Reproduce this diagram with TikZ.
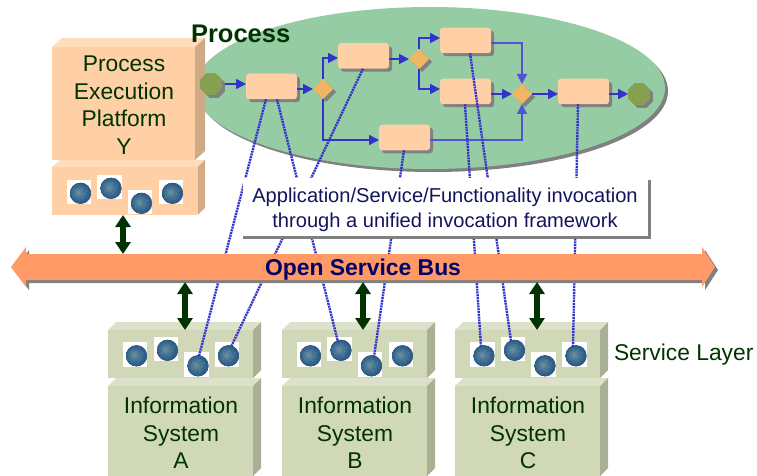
\documentclass[tikz,border=0pt]{standalone}
\usepackage{fontspec}
\setmainfont{Liberation Sans}
\usetikzlibrary{shapes.geometric,shadows,calc,arrows.meta}
\definecolor{elgreen}{HTML}{96CCA3}
\definecolor{shadowgray}{HTML}{808080}
\definecolor{peach}{HTML}{FFCFA5}
\definecolor{peachtop}{HTML}{FFDDBB}
\definecolor{peachside}{HTML}{CFAA85}
\definecolor{sage}{HTML}{D0D8B8}
\definecolor{sagetop}{HTML}{DCE2CA}
\definecolor{sageside}{HTML}{A9B096}
\definecolor{diam}{HTML}{F0B662}
\definecolor{olive}{HTML}{86A052}
\definecolor{flow}{HTML}{3333CC}
\definecolor{dgreen}{HTML}{003300}
\definecolor{navy}{HTML}{000066}
\definecolor{inknavy}{HTML}{14145E}
\definecolor{buscol}{HTML}{FF9966}
\definecolor{ballA}{HTML}{6F93A0}
\definecolor{ballB}{HTML}{4A7896}
\definecolor{ballC}{HTML}{2A5A88}
\pgfdeclareradialshading{svcball}{\pgfpoint{-6bp}{3bp}}{%
  color(0bp)=(ballA); color(10bp)=(ballB); color(24bp)=(ballC); color(30bp)=(ballC!80!white); color(50bp)=(ballC!80!white)}
\newcommand{\svc}[3]{%
  \node[svcsq] (#1) at (#2,#3) {};
  \fill[shading=svcball] (#2+1.5,#3+1.3) circle (10.5);
  \foreach \dx/\dy in {-5/-3,-2/2,1/-5,4/1,-6/3,2/5,6/-3,-1/-1}
    \fill[ballA,opacity=.4] (#2+1.5+\dx,#3+1.3+\dy) circle (1);
}
\tikzset{
  x=1pt,y=-1pt,
  txt/.style={inner sep=0,outer sep=0,text=dgreen,align=center,font=\fontsize{22.8}{27.4}\selectfont},
  svcsq/.style={fill=white,minimum size=24.5,inner sep=0,outer sep=0},
  front/.style={inner sep=0,outer sep=0,anchor=north west},
  shadowed/.style={drop shadow={shadow xshift=3pt,shadow yshift=-3pt,fill=shadowgray,opacity=1}},
  task/.style={shadowed,fill=peach,rounded corners=3,minimum width=51,minimum height=25.5,inner sep=0,outer sep=0},
  gate/.style={shadowed,diamond,fill=diam,minimum size=20,inner sep=0,outer sep=0},
  ev/.style={shadowed,regular polygon,regular polygon sides=8,fill=olive,minimum size=23.5,inner sep=0,outer sep=0},
  seq/.style={draw=flow,line width=1.6,-{Triangle[width=10,length=10]}},
  seqthin/.style={draw=flow!85!white,line width=1.1,-{Triangle[width=10,length=10]}},
  svclink/.style={draw=flow,line width=2.4,dash pattern=on 2 off .8},
  syncarrow/.style={draw=dgreen,line width=6,{Triangle[width=15,length=12]}-{Triangle[width=15,length=12]}},
}
\begin{document}
\begin{tikzpicture}
\useasboundingbox (0,0) rectangle (757,476);
% ellipse
\node[ellipse,shadowed,fill=elgreen,minimum width=470,minimum height=162,inner sep=0] (cloud) at (430,88) {};
% Y platform
\fill[peachtop] (52,47) -- (62,38) -- (205,38) -- (195,47) -- cycle;
\fill[peachside] (195,47) -- (205,38) -- (205,151) -- (195,160) -- cycle;
\node[front,fill=peach,minimum width=143,minimum height=113] (yplat) at (52,47) {};
\fill[peachtop] (52,167) -- (60,160) -- (205,160) -- (197.5,167) -- cycle;
\fill[peachside!95!peach] (197.5,167) -- (205,160) -- (205,208) -- (197.5,215) -- cycle;
\node[front,fill=peach,minimum width=145.5,minimum height=48] (ysvc) at (52,167) {};
% Information systems
\foreach \n/\X in {a/108,b/282,c/455}{
  \fill[sagetop] (\X,330) -- (\X+8,322) -- (\X+153,322) -- (\X+145,330) -- cycle;
  \fill[sageside] (\X+145,330) -- (\X+153,322) -- (\X+153,370) -- (\X+145,378) -- cycle;
  \node[front,fill=sage,minimum width=145,minimum height=48] (\n svc) at (\X,330) {};
  \fill[sagetop] (\X,386) -- (\X+8,378) -- (\X+153,378) -- (\X+145,386) -- cycle;
  \fill[sageside] (\X+145,386) -- (\X+153,378) -- (\X+153,468) -- (\X+145,476) -- cycle;
  \node[front,fill=sage,minimum width=145,minimum height=90] (\n sys) at (\X,386) {};
}
% services
\svc{y1}{79}{192}\svc{y2}{109.5}{187}\svc{y3}{140}{202}\svc{y4}{171}{192}
\svc{a1}{135}{354.5}\svc{a2}{166}{349}\svc{a3}{196.5}{364.5}\svc{a4}{227}{354.5}
\svc{b1}{309}{354.5}\svc{b2}{339.5}{349}\svc{b3}{370}{364.5}\svc{b4}{401}{354.5}
\svc{c1}{482.5}{354.5}\svc{c2}{513}{349}\svc{c3}{543.5}{364.5}\svc{c4}{574.5}{354.5}
% process flow
\node[ev] (st) at (211,84) {};
\node[task] (r1) at (271.5,86.5) {};
\node[gate] (d1) at (323,89) {};
\node[task] (r2) at (363.5,56) {};
\node[task] (r3) at (404.5,137.5) {};
\node[gate] (d2) at (419,59) {};
\node[task] (r4) at (465.5,40.5) {};
\node[task] (r5) at (465.5,91.5) {};
\node[gate] (d3) at (522,94) {};
\node[task] (r6) at (583.5,91.5) {};
\node[ev] (en) at (639,94) {};
\draw[seq,shorten <=3] (st.east) -- (st.east -| r1.west);
\draw[seq] (r1.east |- d1.west) -- (d1.west);
\draw[seq] (d1.north) |- ($(r2.west)+(0,2)$);
\draw[seq] (d1.south) |- ($(r3.west)+(0,2.5)$);
\draw[seq] (r2.east |- d2.west) -- (d2.west);
\draw[seq] (d2.north) |- ($(r4.west)+(0,-2.5)$);
\draw[seq] (d2.south) |- ($(r5.west)+(0,-2.5)$);
\draw[seqthin] ($(r3.east)+(0,2.5)$) -| (d3.south);
\draw[seqthin] ($(r4.east)+(0,2.5)$) -| (d3.north);
\draw[seq] (r5.east |- d3.west) -- (d3.west);
\draw[seq] (d3.east) -- (d3.east -| r6.west);
\draw[seq] (r6.east |- en.west) -- (en.west);
% service links
\draw[svclink] ($(r1.south west)+(20,0)$) -- ($(a3.center)+(2.5,-8.5)$);
\draw[svclink] ($(r1.south west)+(31,0)$) -- ($(b2.center)+(-1.5,-7)$);
\draw[svclink] ($(r2.south west)+(25,0)$) -- ($(a4.center)+(4,-7.5)$);
\draw[svclink] ($(r3.south west)+(25,0)$) -- ($(b3.center)+(4,-7.5)$);
\draw[svclink] ($(r5.south west)+(25,0)$) -- ($(c1.center)+(-1.5,-7.5)$);
\draw[svclink] ($(r4.south west)+(30,0)$) -- ($(c2.center)+(-2,-8)$);
\draw[svclink] ($(r6.south west)+(20,0)$) -- ($(c4.center)+(-1.5,-7.5)$);
% invocation box
\fill[shadowgray] (243,180) rectangle (651,238.5);
\node[front,fill=white,minimum width=405,minimum height=58] (invoke) at (243,178) {};
\node[inner sep=0,outer sep=0,text=inknavy,align=center,anchor=base,font=\fontsize{20.1}{25}\selectfont] (invoketxt) at (445,227.5)
  {Application/Service/Functionality invocation\\through a unified invocation framework};
% bus
\fill[shadowgray] (29,257) -- (29,250) -- (14,270) -- (29,290) -- (29,283) -- (705,283) -- (705,290) -- (718,270) -- (705,250) -- (705,257) -- cycle;
\fill[buscol] (26,254) -- (26,247) -- (11,267) -- (26,287) -- (26,280) -- (702,280) -- (702,287) -- (715,267) -- (702,247) -- (702,254) -- cycle;
\node[inner sep=0,outer sep=0,text=navy,anchor=base,font=\fontsize{22.9}{26}\bfseries\selectfont] (bus) at (363,275) {Open Service Bus};
\coordinate (busy) at (123,254);
\coordinate (busa) at (185,282);
\coordinate (busb) at (363,282);
\coordinate (busc) at (537,282);
% sync arrows
\draw[syncarrow] (ysvc.south -| busy) -- (busy);
\draw[syncarrow] (busa) -- (asvc.north -| busa);
\draw[syncarrow] (busb) -- (bsvc.north -| busb);
\draw[syncarrow] (busc) -- (csvc.north -| busc);
% labels
\node[txt,anchor=base west,font=\fontsize{25.5}{30}\bfseries\selectfont] (proc) at (191,43) {Process};
\node[txt,anchor=base] (ytxt) at (124,154) {Process\\Execution\\Platform\\Y};
\node[txt,anchor=base] (atxt) at (181,468.5) {Information\\System\\A};
\node[txt,anchor=base] (btxt) at (355,468.5) {Information\\System\\B};
\node[txt,anchor=base] (ctxt) at (528,468.5) {Information\\System\\C};
\node[txt,anchor=base west] (svl) at (614,360) {Service Layer};
\end{tikzpicture}
\end{document}
